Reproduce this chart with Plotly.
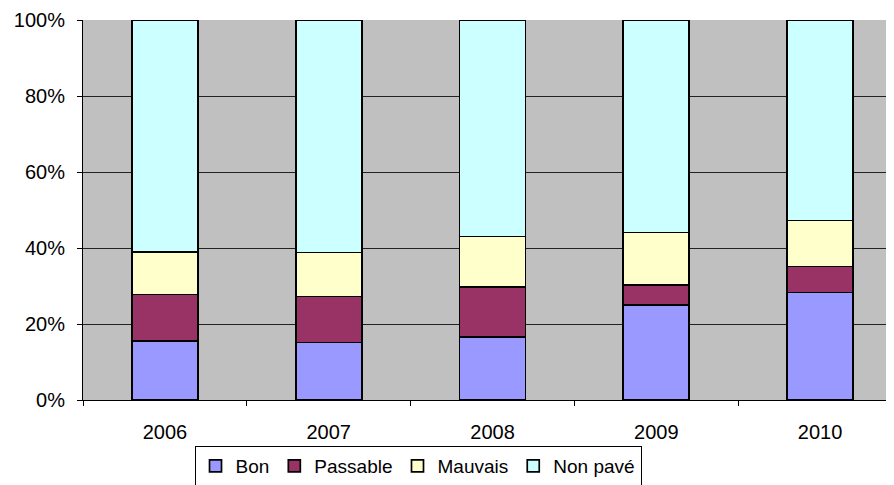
import plotly.graph_objects as go

years = ["2006", "2007", "2008", "2009", "2010"]
bon = [15.6, 15.1, 16.6, 25.0, 28.3]
passable = [12.2, 12.1, 13.2, 5.3, 6.8]
mauvais = [11.1, 11.6, 13.2, 13.8, 12.1]
non_pave = [61.1, 61.2, 57.0, 55.9, 52.8]

series = [
    ("Bon", bon, "#9999FF"),
    ("Passable", passable, "#993366"),
    ("Mauvais", mauvais, "#FFFFCC"),
    ("Non pavé", non_pave, "#CCFFFF"),
]

fig = go.Figure()
for name, vals, col in series:
    fig.add_trace(go.Bar(
        x=years, y=vals, name=name,
        marker=dict(color=col, line=dict(color="black", width=1.7)),
    ))

font = dict(family="Liberation Sans, Arial, sans-serif", size=20, color="black")
# page body adds an 8px offset, so the figure is 8px smaller and margins shifted
fig.update_layout(
    barmode="stack",
    bargap=0.597,
    width=886, height=477,
    margin=dict(l=75, r=0, t=12, b=85, autoexpand=False),
    plot_bgcolor="#C0C0C0",
    paper_bgcolor="white",
    font=font,
    showlegend=True,
    legend=dict(
        orientation="h",
        x=0.1375, y=-0.121, xanchor="left", yanchor="top",
        bordercolor="black", borderwidth=1, bgcolor="white",
        font=dict(family="Liberation Sans, Arial, sans-serif", size=19, color="black"),
        traceorder="normal",
        itemwidth=30, tracegroupgap=0,
    ),
    xaxis=dict(
        type="category",
        range=[-0.5, 4.451],
        automargin=False,
        showline=True, linecolor="black", linewidth=1,
        ticks="outside", tickson="boundaries", ticklen=5, tickcolor="black",
        showgrid=False,
        ticklabelstandoff=14,
    ),
    yaxis=dict(
        range=[0, 100],
        automargin=False,
        tickvals=[0, 20, 40, 60, 80, 100],
        ticktext=["0%", "20%", "40%", "60%", "80%", "100%"],
        showline=True, linecolor="black", linewidth=1,
        ticks="outside", ticklen=5, tickcolor="black",
        showgrid=True, gridcolor="#222222", gridwidth=1,
        zeroline=False,
        ticklabelstandoff=8,
    ),
)

fig.write_html(
    "out.html",
    post_script="document.documentElement.style.overflow='hidden';document.body.style.overflow='hidden';",
)
